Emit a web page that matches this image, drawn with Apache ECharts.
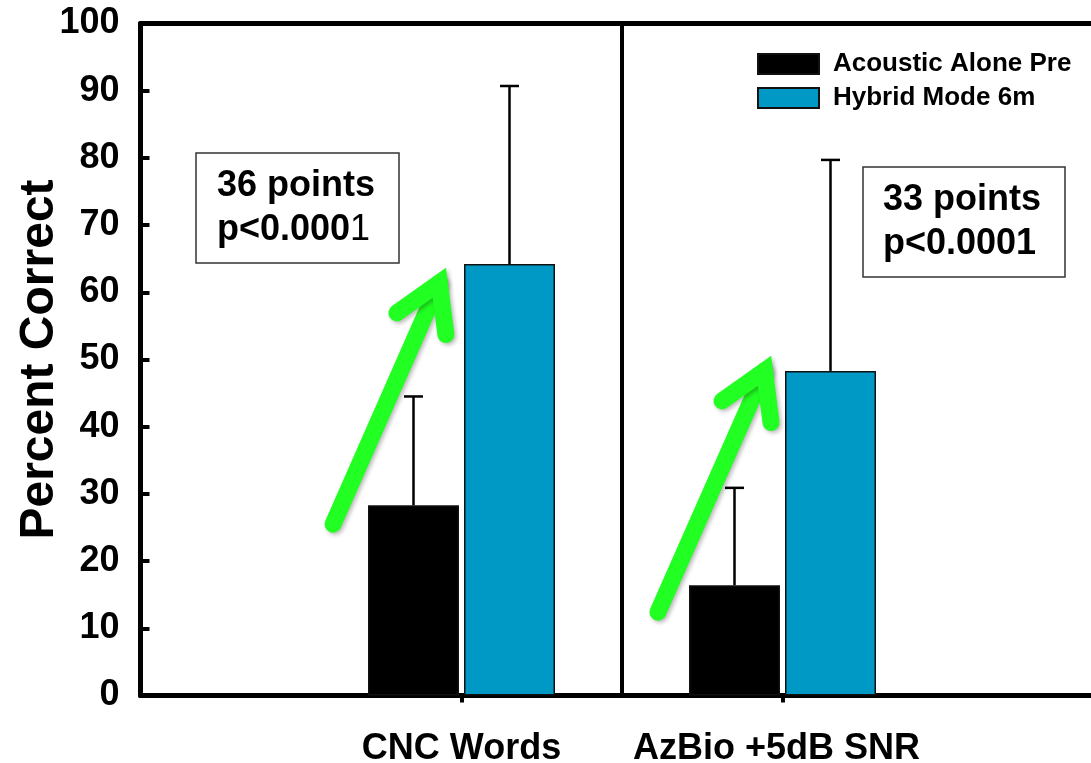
<!DOCTYPE html>
<html>
<head>
<meta charset="utf-8">
<script src="https://cdn.jsdelivr.net/npm/echarts@6/dist/echarts.min.js"></script>
<style>
  html, body { margin: 0; padding: 0; background: #fff; }
  #chart { width: 1091px; height: 763px; }
</style>
</head>
<body>
<div id="chart"></div>
<script>
// ---- data ----
const categories = ['CNC Words', 'AzBio +5dB SNR'];
const categoryPositions = [1, 2];
const seriesNames = ['Acoustic Alone Pre', 'Hybrid Mode 6m'];
const acousticPreMean = [28.3, 16.4];
const acousticPreSD = [16.2, 14.5];
const hybridMean = [64.2, 48.3];
const hybridSD = [26.5, 31.4];
const yMin = 0, yMax = 100, yStep = 10;

// improvement call-outs
const improvementTitles = ['36 points', '33 points'];
const improvementPValues = ['p<0.0001', 'p<0.0001'];
// arrows, in axis units: from tail to head
const arrowTails = [[0.600, 25.5], [1.612, 12.4]];
const arrowHeads = [[0.931, 61.4], [1.944, 48.3]];
// divider between the two test conditions
const dividerPosition = 1.5;

// ---- styling ----
const FONT = '"Liberation Sans", Arial, Helvetica, sans-serif';
const BLACK = '#000000';
const BLUE = '#0098C5';
const GREEN = '#22FF22';
const BAR_WIDTH = 91;
const BAR_OFFSET = 48;          // half distance between paired bar centres
const HEAD_LEN = 52;
const HEAD_ANGLE = 31 * Math.PI / 180;

const chart = echarts.init(document.getElementById('chart'), null, { renderer: 'canvas' });

function pairData(means) {
  return categoryPositions.map((p, i) => [p, means[i]]);
}

const errorData = [];
categoryPositions.forEach((p, i) => {
  errorData.push([p, acousticPreMean[i], acousticPreMean[i] + acousticPreSD[i], -1]);
  errorData.push([p, hybridMean[i], hybridMean[i] + hybridSD[i], 1]);
});

const arrowData = arrowTails.map((t, i) => [t[0], t[1], arrowHeads[i][0], arrowHeads[i][1]]);

function renderErrorBar(params, api) {
  const x = api.value(0);
  const base = api.coord([x, api.value(1)]);
  const top = api.coord([x, api.value(2)]);
  const cx = base[0] + api.value(3) * BAR_OFFSET;
  const st = { stroke: BLACK, lineWidth: 2.5 };
  return {
    type: 'group',
    children: [
      { type: 'line', shape: { x1: cx, y1: base[1], x2: cx, y2: top[1] }, style: st },
      { type: 'line', shape: { x1: cx - 9.5, y1: top[1], x2: cx + 9.5, y2: top[1] }, style: st }
    ]
  };
}

function arrowStyle() {
  return {
    stroke: GREEN, fill: 'none', lineWidth: 17, lineCap: 'round', lineJoin: 'miter',
    shadowBlur: 4, shadowOffsetX: 2, shadowOffsetY: 2, shadowColor: 'rgba(0,0,0,0.28)'
  };
}

function renderArrow(params, api) {
  const tail = api.coord([api.value(0), api.value(1)]);
  const tip = api.coord([api.value(2), api.value(3)]);
  const back = Math.atan2(tail[1] - tip[1], tail[0] - tip[0]);
  const w1 = [tip[0] + HEAD_LEN * Math.cos(back + HEAD_ANGLE), tip[1] + HEAD_LEN * Math.sin(back + HEAD_ANGLE)];
  const w2 = [tip[0] + HEAD_LEN * Math.cos(back - HEAD_ANGLE), tip[1] + HEAD_LEN * Math.sin(back - HEAD_ANGLE)];
  return {
    type: 'group',
    children: [
      { type: 'polyline', shape: { points: [tail, tip] }, style: arrowStyle() },
      { type: 'polyline', shape: { points: [w1, tip, w2] }, style: arrowStyle() }
    ]
  };
}

// call-out boxes (pixel layout)
const boxLayout = [
  { x: 196, y: 153, w: 203, h: 110, textX: 217 },
  { x: 863, y: 167, w: 202, h: 110, textX: 883 }
];
const richText = {
  b: { fontFamily: FONT, fontSize: 36, fontWeight: 'bold', lineHeight: 44, fill: BLACK },
  r: { fontFamily: FONT, fontSize: 36, fontWeight: 'normal', lineHeight: 44, fill: BLACK }
};
const graphics = [];
boxLayout.forEach((b, i) => {
  const p = improvementPValues[i];
  // first call-out has its final digit set in regular weight
  const second = i === 0
    ? '{b|' + p.slice(0, -1) + '}{r|' + p.slice(-1) + '}'
    : '{b|' + p + '}';
  graphics.push({
    type: 'rect', z: 50,
    shape: { x: b.x, y: b.y, width: b.w, height: b.h },
    style: { fill: '#fff', stroke: '#333', lineWidth: 1.5 }
  });
  graphics.push({
    type: 'text', z: 51,
    x: b.textX, y: b.y + b.h / 2,
    style: {
      text: '{b|' + improvementTitles[i] + '}\n' + second,
      rich: richText, align: 'left', verticalAlign: 'middle'
    }
  });
});

const catLabelStyle = { fontFamily: FONT, fontSize: 36, fontWeight: 'bold', color: BLACK };

const option = {
  animation: false,
  backgroundColor: '#fff',
  textStyle: { fontFamily: FONT },
  grid: {
    left: 140.5, right: -12.5, top: 23.5, bottom: 67.5,
    containLabel: false, outerBoundsMode: 'none'
  },
  legend: {
    orient: 'vertical', left: 757, top: 51, padding: 0,
    itemWidth: 61, itemHeight: 20, itemGap: 8,
    icon: 'rect',
    data: seriesNames,
    textStyle: { fontFamily: FONT, fontSize: 26, fontWeight: 'bold', color: BLACK, lineHeight: 26, padding: [0, 0, 0, 9] }
  },
  xAxis: [
    {
      type: 'value', min: 0, max: 3, interval: 1, position: 'bottom',
      axisLine: { onZero: false, lineStyle: { color: BLACK, width: 5 } },
      axisTick: { show: true, inside: false, length: 7, lineStyle: { color: BLACK, width: 4 }, customValues: categoryPositions },
      axisLabel: {
        customValues: categoryPositions,
        margin: 36,
        ...catLabelStyle,
        rich: {
          c0: { ...catLabelStyle },
          c1: { ...catLabelStyle, padding: [0, 12, 0, 0] }
        },
        formatter: v => {
          const i = categoryPositions.indexOf(v);
          return i >= 0 ? '{c' + i + '|' + categories[i] + '}' : '';
        }
      },
      splitLine: { show: false }
    },
    {
      type: 'value', min: 0, max: 3, position: 'top',
      axisLine: { show: true, onZero: false, lineStyle: { color: BLACK, width: 5 } },
      axisTick: { show: false }, axisLabel: { show: false }, splitLine: { show: false }
    }
  ],
  yAxis: {
    type: 'value', min: yMin, max: yMax, interval: yStep,
    name: 'Percent Correct', nameLocation: 'middle', nameRotate: 90, nameGap: 77,
    nameMoveOverlap: false,
    nameTextStyle: { fontFamily: FONT, fontSize: 48, fontWeight: 'bold', color: BLACK },
    axisLine: { show: true, onZero: false, lineStyle: { color: BLACK, width: 5 } },
    axisTick: { show: true, inside: true, length: 9, lineStyle: { color: BLACK, width: 4 } },
    axisLabel: { margin: 21, fontFamily: FONT, fontSize: 36, fontWeight: 'bold', color: BLACK },
    splitLine: { show: false }
  },
  series: [
    {
      name: seriesNames[0], type: 'bar', xAxisIndex: 0,
      barWidth: BAR_WIDTH, barGap: '5.5%',
      itemStyle: { color: BLACK, borderColor: '#111', borderWidth: 1.5 },
      data: pairData(acousticPreMean)
    },
    {
      name: seriesNames[1], type: 'bar', xAxisIndex: 0,
      barWidth: BAR_WIDTH, barGap: '5.5%',
      itemStyle: { color: BLUE, borderColor: '#111', borderWidth: 1.5 },
      data: pairData(hybridMean)
    },
    {
      name: 'error', type: 'custom', xAxisIndex: 0, z: 3,
      renderItem: renderErrorBar,
      encode: { x: 0, y: 2 },
      data: errorData,
      markLine: {
        silent: true, symbol: 'none', label: { show: false },
        lineStyle: { color: BLACK, width: 4, type: 'solid' },
        data: [{ xAxis: dividerPosition }]
      }
    },
    {
      name: 'arrows', type: 'custom', xAxisIndex: 0, z: 10,
      renderItem: renderArrow,
      encode: { x: [0, 2], y: [1, 3] },
      data: arrowData
    }
  ],
  graphic: graphics
};

chart.setOption(option);
</script>
</body>
</html>
